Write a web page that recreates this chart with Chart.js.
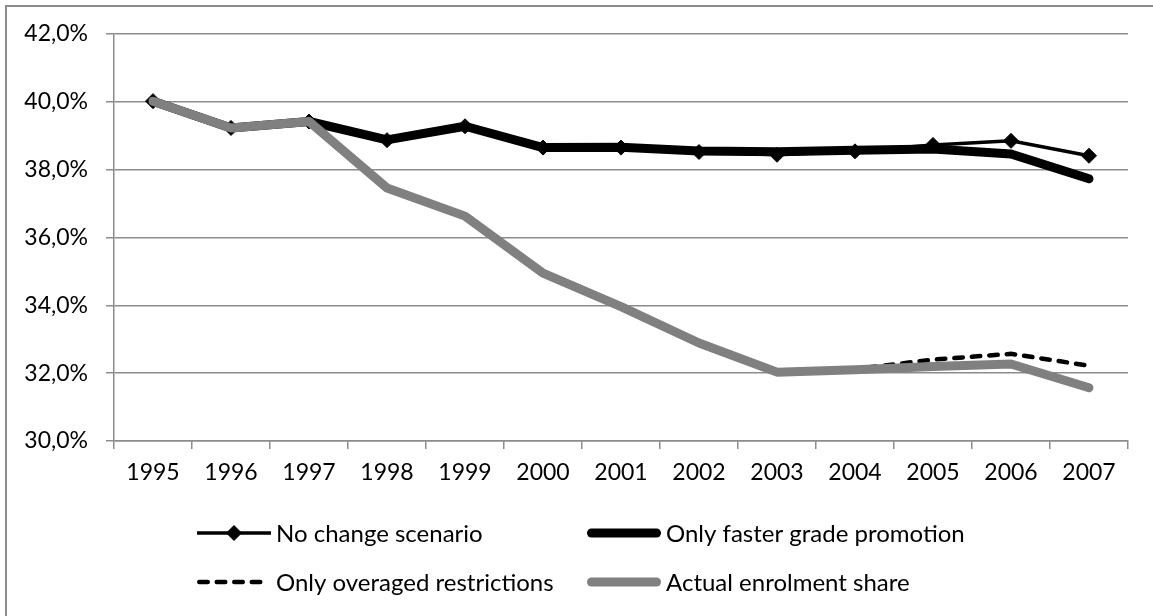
<!DOCTYPE html>
<html>
<head>
<meta charset="utf-8">
<title>Enrolment share scenarios</title>
<script src="https://cdn.jsdelivr.net/npm/chart.js@4/dist/chart.umd.min.js"></script>
<style>
  html, body { margin: 0; padding: 0; background: #fff; }
  .wrap { position: relative; width: 1153px; height: 616px; overflow: hidden; }
  .frame { position: absolute; left: 5px; top: 5px; width: 1300px; height: 800px;
           border-top: 2px solid #8c8c8c; border-left: 2px solid #8c8c8c; }
  #chart { position: absolute; left: 0; top: 0; }
</style>
</head>
<body>
<div class="wrap">
  <div class="frame"></div>
  <canvas id="chart" width="1153" height="616"></canvas>
</div>
<script>
// years on the x axis
const years = ['1995', '1996', '1997', '1998', '1999', '2000', '2001',
               '2002', '2003', '2004', '2005', '2006', '2007'];

// series names (legend order)
const seriesNames = ['No change scenario', 'Only faster grade promotion',
                     'Only overaged restrictions', 'Actual enrolment share'];

// values in percent
const noChange = [40.02, 39.23, 39.42, 38.87, 39.28, 38.65, 38.65, 38.52, 38.44, 38.54, 38.73, 38.85, 38.41];
const fasterPromotion = [40.02, 39.23, 39.42, 38.88, 39.28, 38.65, 38.66, 38.55, 38.53, 38.57, 38.61, 38.46, 37.73];
const overagedRestrictions = [40.02, 39.23, 39.42, 37.46, 36.63, 34.95, 33.96, 32.89, 32.03, 32.12, 32.40, 32.57, 32.22];
const actualShare = [40.02, 39.23, 39.42, 37.46, 36.63, 34.95, 33.96, 32.89, 32.03, 32.10, 32.20, 32.27, 31.57];

// y axis range and step
const yMin = 30;
const yMax = 42;
const yStep = 2;

const gridGrey = '#8c8c8c';
const fontFamily = 'Lato, "Liberation Sans", sans-serif';

// legend layout (two columns, two rows under the plot)
const legendCols = [197, 587];
const legendRows = [533, 582];
const legendSample = 74;

// small plugin that draws an Excel-like legend (line sample + marker + text)
const excelLegend = {
    id: 'excelLegend',
    afterDraw(chart) {
        const ctx = chart.ctx;
        ctx.save();
        ctx.font = '24px ' + fontFamily;
        ctx.textBaseline = 'middle';
        ctx.textAlign = 'left';
        chart.data.datasets.forEach(function(ds, i) {
            const x = legendCols[i % 2];
            const y = legendRows[Math.floor(i / 2)];
            const cap = ds.borderCapStyle === 'round' ? ds.borderWidth / 2 : 0;
            ctx.beginPath();
            ctx.strokeStyle = ds.borderColor;
            ctx.lineWidth = ds.borderWidth;
            ctx.lineCap = ds.borderCapStyle || 'butt';
            ctx.setLineDash(ds.borderDash || []);
            ctx.moveTo(x + cap, y);
            ctx.lineTo(x + legendSample - cap, y);
            ctx.stroke();
            ctx.setLineDash([]);
            if (ds.pointRadius > 0) {
                ctx.fillStyle = ds.pointBackgroundColor;
                ctx.strokeStyle = ds.pointBorderColor;
                ctx.lineWidth = ds.pointBorderWidth;
                Chart.helpers.drawPoint(ctx, {
                    pointStyle: ds.pointStyle,
                    radius: ds.pointRadius,
                    rotation: 0,
                    borderWidth: ds.pointBorderWidth
                }, x + legendSample / 2, y);
            }
            ctx.fillStyle = '#000';
            ctx.fillText(ds.label, x + legendSample + 5, y + 1);
        });
        ctx.restore();
    }
};

const data = {
    labels: years,
    datasets: [{
        label: seriesNames[0],
        data: noChange,
        borderColor: '#000',
        borderWidth: 3.5,
        pointStyle: 'rectRot',
        pointRadius: 7.5,
        pointBackgroundColor: '#000',
        pointBorderColor: '#000',
        pointBorderWidth: 1,
        order: 4
    }, {
        label: seriesNames[1],
        data: fasterPromotion,
        borderColor: '#000',
        borderWidth: 9,
        borderCapStyle: 'round',
        borderJoinStyle: 'round',
        pointRadius: 0,
        order: 3
    }, {
        label: seriesNames[2],
        data: overagedRestrictions,
        borderColor: '#000',
        borderWidth: 4.5,
        borderDash: [8.5, 9],
        borderCapStyle: 'round',
        pointRadius: 0,
        order: 2
    }, {
        label: seriesNames[3],
        data: actualShare,
        borderColor: '#808080',
        borderWidth: 9,
        borderCapStyle: 'round',
        borderJoinStyle: 'round',
        pointRadius: 0,
        order: 1
    }]
};

const config = {
    type: 'line',
    data: data,
    options: {
        responsive: false,
        animation: false,
        layout: { padding: { top: 34, right: 25, bottom: 115, left: 0 } },
        elements: { line: { tension: 0 } },
        plugins: {
            legend: { display: false },
            tooltip: { enabled: false }
        },
        scales: {
            x: {
                offset: true,
                grid: { offset: true, drawOnChartArea: false, tickLength: 8, color: gridGrey, lineWidth: 1.5 },
                border: { color: gridGrey, width: 1.5 },
                ticks: { color: '#000', font: { family: fontFamily, size: 23 }, padding: 10, maxRotation: 0, autoSkip: false },
                afterFit: function(scale) { scale.height = 60; }
            },
            y: {
                min: yMin,
                max: yMax,
                grid: { color: gridGrey, lineWidth: 1.5, tickLength: 8 },
                border: { color: gridGrey, width: 1.5 },
                ticks: {
                    stepSize: yStep,
                    color: '#000',
                    padding: 18,
                    font: { family: fontFamily, size: 23 },
                    callback: function(value) {
                        return value.toFixed(1).replace('.', ',') + '%';
                    }
                },
                afterFit: function(scale) { scale.width = 114; }
            }
        }
    },
    plugins: [excelLegend]
};

const myChart = new Chart(document.getElementById('chart'), config);
</script>
</body>
</html>
